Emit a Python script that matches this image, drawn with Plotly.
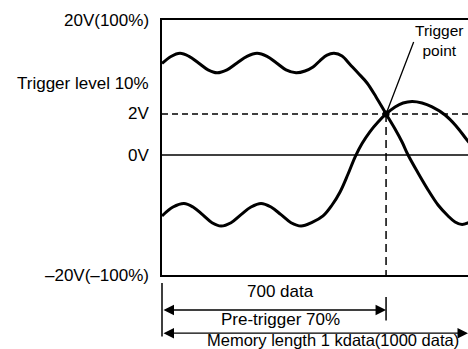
import plotly.graph_objects as go

# ---- data (schematic units: x in data points, y in % of display height) ----
memory_length = 1000
trigger_pos = 700
x_view_max = 956            # visible right edge of the drawing (picture is cropped)

level_top = 100             # 20V(100%)
trigger_level = 26.3        # 2V (trigger level 10%)
zero_level = -5.9           # 0V
level_bottom = -100         # -20V(-100%)

upper_x = [0, 28.1, 56.3, 84.4, 114.1, 143.8, 171.9, 203.1, 234.4, 265.6, 296.9, 328.1, 357.8, 387.5,
           418.8, 446.9, 471.9, 493.8, 515.6, 537.5, 562.5, 587.5, 612.5, 640.6, 668.8, 700, 728.1,
           750, 768.8, 800, 831.3, 862.5, 893.8, 915.6, 937.5, 962.5]
upper_y = [65.9, 71.4, 73.9, 71.5, 66.3, 60.9, 58.6, 60.9, 66.3, 71.5, 73.9, 71.5, 66.3, 60.9,
           58.6, 60.0, 63.1, 68.2, 72.5, 73.9, 71.8, 65.1, 58.4, 50.6, 39.6, 26.3, 14.5,
           4.3, -5.9, -20.0, -33.3, -45.1, -53.7, -58.4, -60.4, -58.4]

lower_x = [0, 34.4, 68.8, 96.9, 126.6, 156.3, 184.4, 215.6, 246.9, 278.1, 309.4, 340.6, 371.9, 403.1,
           434.4, 468.8, 503.1, 531.3, 556.3, 581.3, 603.1, 625, 650, 675, 700, 728.1, 753.1, 781.3,
           812.5, 843.8, 884.4, 918.8, 953.1, 978.1]
lower_y = [-53.7, -46.7, -43.9, -46.7, -52.7, -59.0, -61.6, -59.0, -52.7, -46.7, -43.9, -46.7, -52.7, -59.0,
           -61.6, -58.8, -53.7, -45.1, -34.9, -20.8, -7.5, 3.1, 12.5, 20.0, 26.3, 31.8, 34.9, 36.1,
           34.9, 31.8, 25.5, 16.9, 5.9, -1.2]

y_labels = ["20V(100%)", "2V", "0V", "–20V(–100%)"]
y_label_pos = [level_top, trigger_level, zero_level, level_bottom]

FONT = "Liberation Sans, Arial, Helvetica, sans-serif"
FS = 17

fig = go.Figure()

# 0V reference line
fig.add_trace(go.Scatter(x=[0, memory_length], y=[zero_level, zero_level], mode="lines",
                         line=dict(color="black", width=1.3), hoverinfo="skip"))
# trigger level dashed line
fig.add_trace(go.Scatter(x=[0, memory_length], y=[trigger_level, trigger_level], mode="lines",
                         line=dict(color="black", width=1.5, dash="6px,4px"), hoverinfo="skip"))
# trigger position dashed line
fig.add_trace(go.Scatter(x=[trigger_pos, trigger_pos], y=[trigger_level, level_bottom], mode="lines",
                         line=dict(color="black", width=1.5, dash="8px,5px"), hoverinfo="skip"))
# waveforms
fig.add_trace(go.Scatter(x=upper_x, y=upper_y, mode="lines",
                         line=dict(color="black", width=3, shape="spline", smoothing=1.0), hoverinfo="skip"))
fig.add_trace(go.Scatter(x=lower_x, y=lower_y, mode="lines",
                         line=dict(color="black", width=3, shape="spline", smoothing=1.0), hoverinfo="skip"))
# trigger point
fig.add_trace(go.Scatter(x=[trigger_pos], y=[trigger_level], mode="markers",
                         marker=dict(color="black", size=7), hoverinfo="skip"))

ann = []
# y labels
for txt, yv in zip(y_labels, y_label_pos):
    ann.append(dict(text=txt, x=0, xref="paper", y=yv, yref="y", xanchor="right", yanchor="middle",
                    xshift=-11, showarrow=False, font=dict(size=FS, color="black", family=FONT)))
ann.append(dict(text="Trigger level 10%", x=0, xref="paper", y=trigger_level, yref="y",
                xanchor="right", yanchor="middle", xshift=-11, yshift=30, showarrow=False,
                font=dict(size=FS, color="black", family=FONT)))

# Trigger point label + leader line
ann.append(dict(text="Trigger<br>point", x=866, y=84, xref="x", yref="y", showarrow=False,
                xanchor="center", yanchor="middle", borderpad=0,
                font=dict(size=15.5, color="black", family=FONT)))
ann.append(dict(text="", x=trigger_pos, y=trigger_level, xref="x", yref="y",
                ax=788, ay=84, axref="x", ayref="y", showarrow=True, arrowhead=0,
                arrowwidth=1.3, arrowcolor="black", standoff=0, startstandoff=0))

# bottom dimension arrows
def tick(xv, y0, length):
    return dict(text="", x=xv, y=y0, xref="x", yref="paper", ax=0, ay=length,
                axref="pixel", ayref="pixel", showarrow=True, arrowhead=0,
                arrowwidth=1.5, arrowcolor="black")

ann.append(tick(0, -0.031, 55))
ann.append(tick(trigger_pos, -0.086, 25))

def dim_arrow(x0, x1, yp):
    return dict(text="", x=x1, y=yp, xref="x", yref="paper", ax=x0, ay=0,
                axref="x", ayref="pixel", showarrow=True, arrowhead=2, startarrowhead=2,
                arrowside="end+start", arrowsize=1.5, startarrowsize=1.5, arrowwidth=1.4,
                arrowcolor="black", standoff=0, startstandoff=0)

ann.append(dim_arrow(0, trigger_pos, -0.137))
ann.append(dim_arrow(0, x_view_max, -0.228))

ann.append(dict(text="700 data", x=369, y=-0.063, xref="x", yref="paper",
                showarrow=False, xanchor="center", yanchor="middle",
                font=dict(size=FS, color="black", family=FONT)))
ann.append(dict(text="Pre-trigger 70%", x=369, y=-0.176, xref="x", yref="paper",
                showarrow=False, xanchor="center", yanchor="middle",
                font=dict(size=FS, color="black", family=FONT)))
ann.append(dict(text="Memory length 1 kdata(1000 data)", x=534, y=-0.254,
                xref="x", yref="paper", showarrow=False, xanchor="center", yanchor="middle",
                borderpad=0, font=dict(size=16.5, color="black", family=FONT)))

fig.update_layout(
    width=468, height=349,
    margin=dict(l=162, r=0, t=20, b=74),
    paper_bgcolor="white", plot_bgcolor="white",
    showlegend=False,
    annotations=ann,
    xaxis=dict(range=[0, x_view_max], showline=True, linecolor="black", linewidth=2, mirror=True,
               showgrid=False, zeroline=False, showticklabels=False, ticks="", fixedrange=True),
    yaxis=dict(range=[level_bottom, level_top], showline=True, linecolor="black", linewidth=2,
               mirror=False, showgrid=False, zeroline=False, showticklabels=False, ticks="", fixedrange=True),
)

fig.write_html("out.html", config={"displayModeBar": False, "staticPlot": True},
               post_script="document.body.style.margin='0px';document.body.style.overflow='hidden';")
